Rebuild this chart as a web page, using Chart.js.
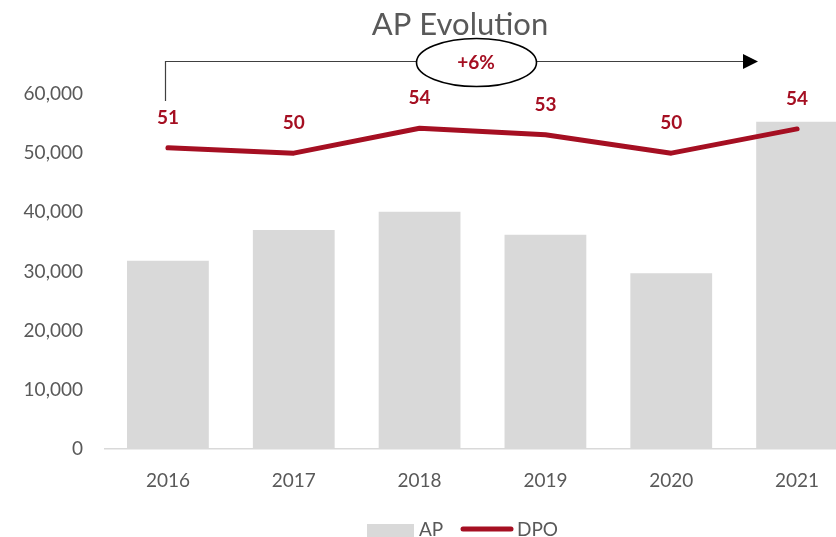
<!DOCTYPE html>
<html>
<head>
<meta charset="utf-8">
<script src="https://cdn.jsdelivr.net/npm/chart.js@4/dist/chart.umd.min.js"></script>
<style>
  html, body { margin: 0; padding: 0; background: #fff; overflow: hidden; }
  #wrap { width: 836px; height: 537px; overflow: hidden; }
</style>
</head>
<body>
<div id="wrap"><canvas id="chart" width="862" height="537"></canvas></div>
<script>
// ---- data ----
const years = ["2016", "2017", "2018", "2019", "2020", "2021"];
const apValues = [31800, 37000, 40100, 36200, 29700, 55300];
const dpoValues = [50.9, 50.0, 54.2, 53.1, 50.0, 54.1];
const yTicks = [0, 10000, 20000, 30000, 40000, 50000, 60000];
const chartTitle = "AP Evolution";
const growthLabel = "+6%";

const GREY_TEXT = "#595959";
const DPO_RED = "#A50F22";
const BAR_GREY = "#D9D9D9";
const FONT = "Lato";

// title, growth arrow, value labels and legend
const decorations = {
  id: "decorations",
  afterDatasetsDraw(chart) {
    const ctx = chart.ctx;
    ctx.save();

    // title
    ctx.fillStyle = GREY_TEXT;
    ctx.font = "31px " + FONT;
    ctx.textAlign = "center";
    ctx.textBaseline = "middle";
    ctx.fillText(chartTitle, 460, 25);

    // growth arrow
    ctx.strokeStyle = "#404040";
    ctx.lineWidth = 1.2;
    ctx.beginPath();
    ctx.moveTo(165.5, 101);
    ctx.lineTo(165.5, 61.5);
    ctx.lineTo(745, 61.5);
    ctx.stroke();
    ctx.fillStyle = "#000";
    ctx.beginPath();
    ctx.moveTo(743, 54);
    ctx.lineTo(758, 61.5);
    ctx.lineTo(743, 69);
    ctx.closePath();
    ctx.fill();

    // ellipse with growth %
    ctx.fillStyle = "#fff";
    ctx.strokeStyle = "#000";
    ctx.lineWidth = 1.6;
    ctx.beginPath();
    ctx.ellipse(476.5, 62.5, 60, 24, 0, 0, Math.PI * 2);
    ctx.fill();
    ctx.stroke();
    ctx.fillStyle = DPO_RED;
    ctx.font = "bold 19px " + FONT;
    ctx.fillText(growthLabel, 476, 63);

    // DPO value labels (line dataset is index 0)
    const meta = chart.getDatasetMeta(0);
    meta.data.forEach((pt, i) => {
      ctx.fillText(String(Math.round(dpoValues[i])), pt.x, pt.y - 30);
    });

    // legend
    ctx.fillStyle = BAR_GREY;
    ctx.fillRect(367, 524, 47, 13);
    ctx.strokeStyle = DPO_RED;
    ctx.lineWidth = 5;
    ctx.lineCap = "round";
    ctx.beginPath();
    ctx.moveTo(463, 529);
    ctx.lineTo(511, 529);
    ctx.stroke();
    ctx.fillStyle = GREY_TEXT;
    ctx.font = "19px " + FONT;
    ctx.textAlign = "left";
    ctx.fillText("AP", 419, 530);
    ctx.fillText("DPO", 517, 530);

    ctx.restore();
  }
};

new Chart(document.getElementById("chart"), {
  data: {
    labels: years,
    datasets: [
      {
        type: "line",
        label: "DPO",
        data: dpoValues,
        yAxisID: "y1",
        borderColor: DPO_RED,
        borderWidth: 5,
        pointRadius: 0,
        tension: 0,
        borderCapStyle: "round",
        borderJoinStyle: "round",
        order: 0
      },
      {
        type: "bar",
        label: "AP",
        data: apValues,
        yAxisID: "y",
        backgroundColor: BAR_GREY,
        barPercentage: 0.65,
        categoryPercentage: 1,
        order: 1
      }
    ]
  },
  options: {
    responsive: false,
    animation: false,
    layout: { padding: { top: 94, right: 2, bottom: 40, left: 0 } },
    plugins: {
      legend: { display: false },
      tooltip: { enabled: false },
      title: { display: false }
    },
    scales: {
      x: {
        grid: { display: false, drawTicks: false },
        border: { display: true, color: BAR_GREY, width: 1.5 },
        ticks: { color: GREY_TEXT, font: { family: FONT, size: 19 }, padding: 20 },
        afterFit: s => { s.height = 48; }
      },
      y: {
        min: 0,
        max: 60000,
        grid: { display: false, drawTicks: false },
        border: { display: false },
        afterBuildTicks: s => { s.ticks = yTicks.map(v => ({ value: v })); },
        ticks: {
          color: GREY_TEXT,
          font: { family: FONT, size: 19 },
          padding: 22,
          callback: v => v.toLocaleString("en-US")
        },
        afterFit: s => { s.width = 105; }
      },
      y1: { display: false, min: 0, max: 60 }
    }
  },
  plugins: [decorations]
});
</script>
</body>
</html>
